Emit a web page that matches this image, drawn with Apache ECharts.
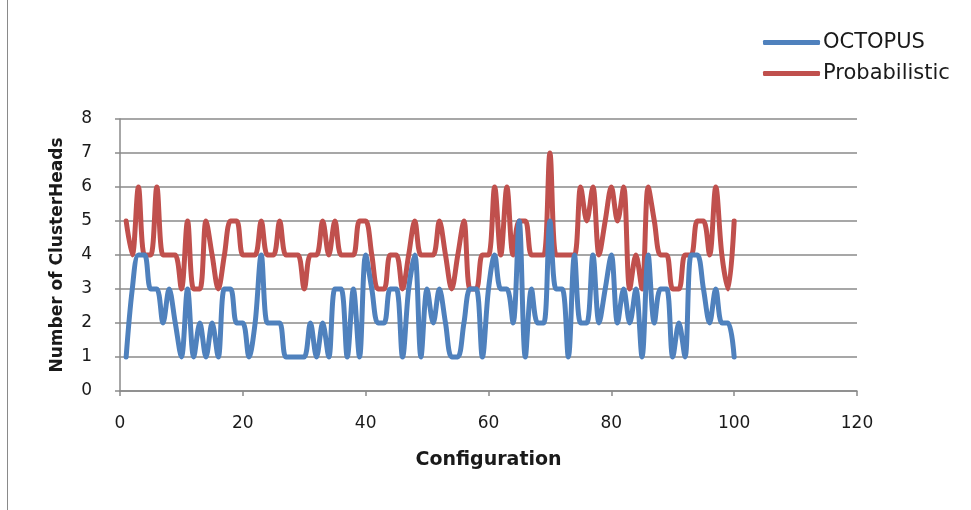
<!DOCTYPE html>
<html>
<head>
<meta charset="utf-8">
<title>Number of ClusterHeads per Configuration</title>
<script src="https://cdn.jsdelivr.net/npm/echarts@6/dist/echarts.min.js"></script>
<style>
  html, body { margin: 0; padding: 0; background: #ffffff; }
  #chart { width: 971px; height: 510px; }
</style>
</head>
<body>
<div id="chart"></div>
<script>
// Number of cluster heads elected in each of the 100 simulated configurations
const octopus = [
  1, 3, 4, 4, 3, 3, 2, 3, 2, 1,
  3, 1, 2, 1, 2, 1, 3, 3, 2, 2,
  1, 2, 4, 2, 2, 2, 1, 1, 1, 1,
  2, 1, 2, 1, 3, 3, 1, 3, 1, 4,
  3, 2, 2, 3, 3, 1, 3, 4, 1, 3,
  2, 3, 2, 1, 1, 2, 3, 3, 1, 3,
  4, 3, 3, 2, 5, 1, 3, 2, 2, 5,
  3, 3, 1, 4, 2, 2, 4, 2, 3, 4,
  2, 3, 2, 3, 1, 4, 2, 3, 3, 1,
  2, 1, 4, 4, 3, 2, 3, 2, 2, 1
];
const probabilistic = [
  5, 4, 6, 4, 4, 6, 4, 4, 4, 3,
  5, 3, 3, 5, 4, 3, 4, 5, 5, 4,
  4, 4, 5, 4, 4, 5, 4, 4, 4, 3,
  4, 4, 5, 4, 5, 4, 4, 4, 5, 5,
  4, 3, 3, 4, 4, 3, 4, 5, 4, 4,
  4, 5, 4, 3, 4, 5, 3, 3, 4, 4,
  6, 4, 6, 4, 5, 5, 4, 4, 4, 7,
  4, 4, 4, 4, 6, 5, 6, 4, 5, 6,
  5, 6, 3, 4, 3, 6, 5, 4, 4, 3,
  3, 4, 4, 5, 5, 4, 6, 4, 3, 5
];
// Configuration numbers run 1..N along the x axis
const configurations = octopus.map((_, i) => i + 1);

const xTicks = { min: 0, max: 120, interval: 20 };
const yTicks = { min: 0, max: 8, interval: 1 };

const seriesNames = ['OCTOPUS', 'Probabilistic'];
const seriesColors = ['#4F81BD', '#C0504D'];

const FONT = '"DejaVu Sans", Verdana, sans-serif';
const GRID_GRAY = '#8a8a8a';

const toPairs = (vals) => vals.map((v, i) => [configurations[i], v]);

const chart = echarts.init(document.getElementById('chart'), null, { renderer: 'canvas' });

chart.setOption({
  animation: false,
  backgroundColor: '#ffffff',
  textStyle: { fontFamily: FONT },
  graphic: [{
    type: 'rect',
    shape: { x: 7.5, y: -5, width: 1000, height: 530 },
    style: { fill: 'none', stroke: GRID_GRAY, lineWidth: 1 },
    silent: true
  }],
  legend: {
    orient: 'vertical',
    left: 758,
    top: 27,
    itemWidth: 57,
    itemHeight: 5,
    itemGap: 10,
    icon: 'roundRect',
    data: seriesNames,
    textStyle: { fontFamily: FONT, fontSize: 21, color: '#1a1a1a', padding: [0, 0, 0, -2] }
  },
  grid: { left: 120, right: 114, top: 119, bottom: 119, containLabel: false },
  xAxis: {
    type: 'value',
    min: xTicks.min,
    max: xTicks.max,
    interval: xTicks.interval,
    name: 'Configuration',
    nameLocation: 'middle',
    nameGap: 60,
    nameTextStyle: { fontFamily: FONT, fontSize: 19, fontWeight: 'bold', color: '#1a1a1a' },
    axisLine: { show: true, onZero: false, lineStyle: { color: GRID_GRAY, width: 1.5 } },
    axisTick: { show: true, length: 5, lineStyle: { color: GRID_GRAY, width: 1.5 } },
    axisLabel: { margin: 24, fontFamily: FONT, fontSize: 17, color: '#1a1a1a' },
    splitLine: { show: false }
  },
  yAxis: {
    type: 'value',
    min: yTicks.min,
    max: yTicks.max,
    interval: yTicks.interval,
    name: 'Number of ClusterHeads',
    nameLocation: 'middle',
    nameGap: 54,
    nameRotate: 90,
    nameTextStyle: { fontFamily: FONT, fontSize: 17, fontWeight: 'bold', color: '#1a1a1a' },
    axisLine: { show: true, lineStyle: { color: GRID_GRAY, width: 1.5 } },
    axisTick: { show: true, length: 5, lineStyle: { color: GRID_GRAY, width: 1.5 } },
    axisLabel: { margin: 28, fontFamily: FONT, fontSize: 17, color: '#1a1a1a' },
    splitLine: { show: true, lineStyle: { color: GRID_GRAY, width: 1.5 } }
  },
  series: [
    {
      name: seriesNames[0],
      type: 'line',
      data: toPairs(octopus),
      smooth: 0.33,
      showSymbol: false,
      symbol: 'none',
      z: 3,
      itemStyle: { color: seriesColors[0] },
      lineStyle: { color: seriesColors[0], width: 5, cap: 'round', join: 'round' }
    },
    {
      name: seriesNames[1],
      type: 'line',
      data: toPairs(probabilistic),
      smooth: 0.33,
      showSymbol: false,
      symbol: 'none',
      z: 2,
      itemStyle: { color: seriesColors[1] },
      lineStyle: { color: seriesColors[1], width: 5, cap: 'round', join: 'round' }
    }
  ]
});
</script>
</body>
</html>
